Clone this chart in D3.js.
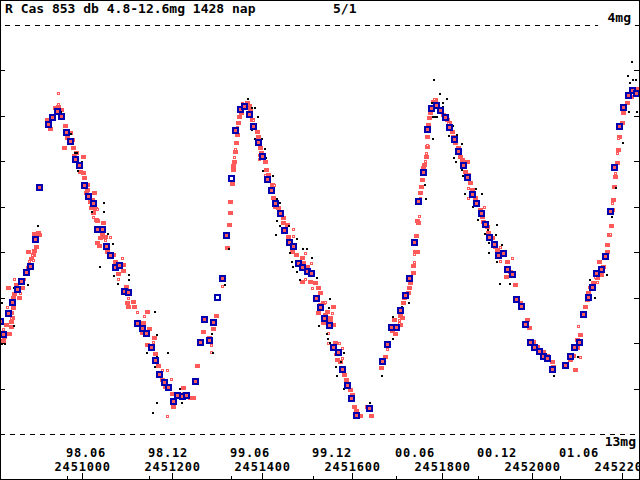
<!DOCTYPE html>
<html>
<head>
<meta charset="utf-8">
<title>R Cas</title>
<script src="https://cdn.jsdelivr.net/npm/d3@7"></script>
<style>
body { margin: 0; background: #fff; }
svg text { font-family: "DejaVu Sans Mono", monospace; font-weight: bold; font-size: 13px; fill: #000; }
svg text.xlab { font-size: 12px; letter-spacing: 0.8px; }
</style>
</head>
<body>
<script>
const width = 640
const height = 480
const JD0 = 2450000

const title = 'R Cas 853 db 4.8-12.6mg 1428 nap'
const pageNo = '5/1'
const magTop = 4
const magBottom = 13
const magTicks = [5, 6, 7, 8, 9, 10, 11, 12]
const jdTicks = [2451000, 2451200, 2451400, 2451600, 2451800, 2452000, 2452200]
const dateLabels = ['98.06', '98.12', '99.06', '99.12', '00.06', '00.12', '01.06']
const dateJD = [2450965.5, 2451148.5, 2451330.5, 2451513.5, 2451696.5, 2451879.5, 2452061.5]

// [JD - 2450000, magnitude]
// blue squares (averages)
const blueMarks = [
  [819,10.54],[826,10.82],[837,10.36],[846,10.12],[857,9.83],[866,9.66],[877,9.46],[886,9.33],[897,8.73],[906,7.59],
  [926,6.20],[935,6.05],[946,5.91],[955,6.02],[966,6.38],[975,6.58],[986,6.97],[995,7.10],[1006,7.54],[1015,7.79],
  [1026,7.94],[1035,8.51],[1046,8.51],[1055,8.89],[1064,9.08],[1075,9.35],[1084,9.30],[1095,9.88],[1104,9.90],
  [1124,10.58],[1135,10.69],[1144,10.80],[1155,11.11],[1164,11.39],[1173,11.70],[1184,11.88],[1193,11.99],
  [1204,12.30],[1213,12.16],[1224,12.19],[1233,12.16],[1253,11.86],[1264,11.00],[1273,10.49],[1284,10.95],[1293,10.56],
  [1313,9.59],[1321,8.64],[1341,6.33],[1353,5.87],[1361,5.80],[1373,5.98],[1381,6.24],[1393,6.60],[1401,6.91],
  [1413,7.41],[1421,7.65],[1430,7.94],[1441,8.16],[1450,8.53],[1461,8.80],[1470,8.89],[1482,9.26],[1490,9.35],
  [1501,9.44],[1510,9.48],[1521,10.03],[1530,10.23],[1539,10.47],[1550,10.62],[1559,11.11],[1570,11.22],[1579,11.59],
  [1590,11.94],[1599,12.23],[1610,12.60],[1639,12.45],[1668,11.42],[1679,11.04],[1688,10.67],[1699,10.67],[1708,10.29],
  [1719,9.96],[1728,9.59],[1739,8.80],[1748,7.90],[1759,7.26],[1768,6.31],[1777,5.85],[1788,5.78],[1797,5.89],
  [1808,6.05],[1817,6.27],[1828,6.53],[1837,6.80],[1848,7.10],[1857,7.37],[1868,7.74],[1877,7.94],[1888,8.16],
  [1897,8.40],[1906,8.69],[1917,8.84],[1926,9.08],[1937,9.04],[1946,9.39],[1957,9.50],[1966,10.05],[1977,10.21],
  [1986,10.60],[1997,11.00],[2006,11.11],[2017,11.20],[2026,11.31],[2035,11.35],[2046,11.59],[2075,11.50],[2086,11.31],
  [2095,11.11],[2106,11.00],[2115,10.38],[2126,10.01],[2135,9.79],[2144,9.48],[2155,9.39],[2164,9.11],[2175,8.12],
  [2184,7.15],[2195,6.24],[2204,5.83],[2215,5.56],[2224,5.45],[2233,5.52]
]
const blueHollow = [[1302,10.01],[1333,7.39]]

// red filled marks
const redFilled = [
  [824,10.95],[826,10.87],[837,10.80],[830,10.60],[841,10.65],[841,10.54],[844,10.45],[841,10.34],[846,10.23],[846,10.01],
  [859,10.01],[848,9.92],[835,9.79],[866,9.79],[853,9.72],[873,9.44],[879,9.35],[886,9.15],[890,9.06],[879,9.00],
  [893,8.97],[897,8.89],[893,8.60],[901,8.58],[904,8.62],
  [939,5.83],[946,5.80],[953,5.87],[921,6.09],[928,6.29],[961,6.22],[961,6.38],[972,6.38],[966,6.49],[977,6.53],
  [959,6.71],[979,6.71],[986,6.82],[981,6.88],[1001,6.91],[995,7.24],[1001,7.26],[1004,7.37],[1010,7.52],[1010,7.63],
  [1008,7.70],[1026,7.70],[1021,7.85],[1017,7.90],[1019,8.03],[1028,8.05],[1024,8.14],[1030,8.29],[1033,8.31],
  [1046,8.36],[1044,8.62],[1039,8.69],[1050,8.67],[1033,8.80],[1037,8.86],[1055,9.00],[1068,9.06],[1073,9.22],
  [1090,9.28],[1090,9.41],[1079,9.48],[1097,9.77],[1099,10.12],[1101,10.21],[1113,10.10],[1115,10.21],[1144,10.32],
  [1135,10.56],[1148,10.69],[1133,10.78],[1159,10.89],[1144,11.04],[1161,11.24],[1168,11.50],[1177,11.81],[1184,11.97],
  [1199,12.12],[1199,12.25],[1202,12.41],[1224,11.99],[1239,12.21],[1246,12.21],[1255,11.50],[1268,10.76],[1281,10.89],
  [1290,10.69],[1297,10.40],
  [1321,8.91],[1326,8.40],[1328,8.14],[1328,7.90],[1333,7.50],[1335,7.19],[1335,7.10],[1337,7.02],[1339,6.80],
  [1341,6.60],[1344,6.42],[1346,6.16],[1348,6.02],[1353,5.94],[1357,5.76],[1366,5.72],[1370,5.78],
  [1373,5.87],[1377,6.09],[1388,6.35],[1390,6.46],[1395,6.71],[1397,6.82],[1406,7.02],[1408,7.19],[1413,7.30],
  [1421,7.52],[1424,7.81],[1428,8.01],[1435,8.03],[1446,8.25],[1446,8.36],[1455,8.40],[1457,8.67],[1461,8.78],
  [1466,9.00],[1475,9.06],[1488,9.13],[1490,9.24],[1499,9.33],[1508,9.50],[1506,9.66],[1517,9.68],[1488,9.66],
  [1524,9.79],[1528,9.90],[1528,10.16],[1535,10.12],[1524,10.34],[1539,10.38],[1544,10.32],[1557,10.21],[1550,10.45],
  [1550,10.54],[1535,10.56],[1557,10.60],[1561,11.00],[1566,11.22],[1566,11.37],[1573,11.42],[1581,11.70],[1586,11.81],
  [1595,12.03],[1599,12.14],[1604,12.41],[1608,12.50],[1617,12.60],[1633,12.41],[1641,12.60],
  [1664,11.55],[1673,11.31],[1688,10.73],[1695,10.80],[1693,10.49],[1706,10.40],[1706,10.60],[1710,10.45],[1713,10.12],
  [1715,10.01],[1724,9.90],[1726,9.79],[1728,9.68],[1735,9.46],[1735,9.30],[1739,9.00],[1744,9.00],[1741,8.64],
  [1744,8.31],[1746,8.36],[1750,7.70],[1753,7.57],[1755,7.41],[1757,7.15],[1759,7.08],[1764,6.91],[1766,6.69],
  [1766,6.46],[1768,6.20],[1770,6.05],[1773,5.94],[1777,5.83],[1779,5.69],[1784,5.65],
  [1795,5.91],[1801,5.98],[1810,6.09],[1815,6.16],[1821,6.35],[1824,6.46],[1828,6.60],[1835,6.71],[1839,6.91],
  [1844,6.97],[1855,7.02],[1850,7.24],[1857,7.30],[1861,7.48],[1866,7.63],[1873,7.81],[1877,7.90],[1884,8.07],
  [1888,8.23],[1890,8.34],[1899,8.45],[1901,8.58],[1910,8.69],[1917,8.89],[1921,8.95],[1926,9.06],[1944,9.22],
  [1946,9.35],[1950,9.44],[1941,9.55],[1961,9.72],[1966,10.05],[1973,10.12],[1988,10.49],[1993,10.67],[2001,10.98],
  [2010,11.09],[2024,11.20],[2033,11.28],[2044,11.42],[2046,11.53],
  [2084,11.37],[2095,11.59],[2090,11.28],[2099,11.11],[2099,10.93],[2106,10.82],[2117,10.21],[2121,10.05],[2124,9.90],
  [2133,9.77],[2135,9.68],[2144,9.57],[2148,9.22],[2153,9.50],[2157,9.33],[2166,9.00],[2166,8.84],[2170,8.62],
  [2175,8.42],[2177,8.07],[2179,7.85],[2181,7.57],[2184,7.35],[2188,7.04],[2190,6.75],[2192,6.46],[2199,6.16],
  [2201,5.94],[2210,5.72],[2219,5.58],[2224,5.43],[2233,5.41]
]

// red open marks
const redHollow = [
  [888,9.06],[881,9.19],[890,9.17],[870,9.59],[861,9.90],[833,10.21],[841,10.45],[824,10.69],[848,9.59],[946,5.74],
  [946,5.50],[1033,8.05],[1024,8.23],[1061,8.67],[1050,8.73],[1079,9.59],[1088,9.13],[1101,10.01],[1121,10.32],
  [1137,10.40],[1157,10.98],[1177,11.59],[1188,11.59],[1197,11.79],[1224,12.10],[1188,12.60],[1286,11.04],[1286,11.20],
  [1310,9.74],[1337,6.91],[1339,6.73],[1344,6.24],[1355,5.72],[1379,6.09],[1393,6.86],[1393,6.95],[1406,7.30],
  [1426,7.52],[1468,8.49],[1468,8.64],[1495,9.02],[1508,9.24],[1495,9.59],[1510,9.79],[1539,10.10],[1555,10.34],
  [1546,10.78],[1546,11.00],[1570,11.00],[1577,11.11],[1561,11.24],[1577,11.33],[1588,11.86],[1677,11.13],
  [1704,10.49],[1704,10.56],[1748,8.20],[1737,9.22],[1737,9.04],[1750,7.81],[1761,6.99],[1764,6.82],[1766,6.64],
  [1781,5.63],[1813,6.16],[1821,6.46],[1855,7.37],[1857,7.59],[1857,7.81],[1893,8.01],[1928,8.89],[1928,9.19],
  [1955,9.13],[1957,9.52],[2101,10.62],[2106,11.31],[2126,9.77],[2144,9.66],[2139,9.55],[2173,8.60],[2177,7.92],
  [2184,7.26],[2188,6.82],[2190,6.49],[2217,5.45],[2215,5.54]
]

// black dots (visual estimates)
const blackDots = [
  [901,8.42],[879,9.72],[848,9.79],[821,10.12],[848,10.62],[821,11.02],[828,11.02],[953,5.91],[975,6.40],[984,6.82],
  [988,6.82],[999,7.02],[990,7.21],[1048,7.92],[1048,8.12],[1021,8.12],[1057,8.60],[1039,9.33],[1068,8.82],[1070,9.52],
  [1079,9.70],[1104,9.50],[1104,9.61],[1161,10.32],[1166,10.82],[1144,11.22],[1190,11.22],[1166,11.31],[1161,11.53],
  [1166,12.32],[1222,12.32],[1217,12.01],[1157,12.54],[1288,10.80],[1290,11.22],[1368,5.63],[1317,9.52],[1317,9.72],
  [1326,8.93],[1377,5.83],[1384,5.83],[1390,6.02],[1377,6.31],[1384,6.51],[1399,6.51],[1406,6.73],[1408,6.93],
  [1401,7.21],[1424,7.32],[1433,7.83],[1439,7.92],[1433,8.31],[1439,8.42],[1459,8.42],[1430,8.62],[1477,8.71],
  [1461,9.02],[1490,8.93],[1499,8.93],[1466,9.22],[1477,9.22],[1510,9.13],[1468,9.33],[1477,9.44],[1484,9.61],
  [1515,9.44],[1521,9.57],[1548,10.23],[1550,10.03],[1526,10.62],[1544,10.80],[1546,10.91],[1550,11.00],[1581,11.22],
  [1564,11.53],[1575,11.42],[1566,11.72],[1581,12.01],[1639,12.32],[1666,11.72],[1690,10.91],[1690,10.43],[1710,10.21],
  [1726,10.12],[1764,7.83],[1761,7.52],[1779,6.51],[1781,5.21],[1795,5.52],[1777,5.72],[1779,6.02],[1788,6.02],
  [1801,5.72],[1810,5.63],[1801,5.80],[1784,6.02],[1801,6.09],[1810,6.22],[1824,6.22],[1815,6.44],[1833,6.42],
  [1844,6.62],[1826,6.93],[1830,7.02],[1844,7.19],[1846,7.32],[1875,7.61],[1850,7.72],[1888,7.72],[1868,8.01],
  [1879,8.29],[1890,8.40],[1921,8.40],[1901,8.51],[1895,8.60],[1919,8.62],[1904,8.80],[1933,8.84],[1904,9.02],
  [1921,9.02],[1921,9.22],[1928,9.70],[1950,9.70],[2048,11.72],[2101,11.31],[2128,9.61],[2139,10.01],[2166,9.50],
  [2177,8.23],[2186,7.59],[2201,6.60],[2217,5.28],[2213,5.12],[2224,5.21],[2230,5.21],[2215,5.91],[2233,5.91],
  [2208,5.61],[2221,4.81]
]

const red = '#ff5a5a'
const blue = '#0000b0'

const x = d3.scaleLinear().domain([2451000, 2452200]).range([82.3, 622.3])
const y = d3.scaleLinear().domain([magTop, magBottom]).range([25, 434])
const px = d => Math.round(x(JD0 + d[0]))
const py = d => Math.round(y(d[1]))

const svg = d3.select('body').append('svg')
  .attr('width', width)
  .attr('height', height)
  .style('display', 'block')

svg.append('rect')
  .attr('width', width).attr('height', height)
  .attr('fill', '#fff')

// dashed limit lines
svg.append('line')
  .attr('x1', 0).attr('x2', width)
  .attr('y1', y(magTop) + 0.5).attr('y2', y(magTop) + 0.5)
  .attr('stroke', '#000').attr('stroke-dasharray', '5,5').attr('stroke-dashoffset', 5)
  .attr('shape-rendering', 'crispEdges')
svg.append('line')
  .attr('x1', 0).attr('x2', width)
  .attr('y1', y(magBottom) + 0.5).attr('y2', y(magBottom) + 0.5)
  .attr('stroke', '#000').attr('stroke-dasharray', '5,5')
  .attr('shape-rendering', 'crispEdges')

// marks
const g = svg.append('g').attr('shape-rendering', 'crispEdges')

g.selectAll('.rf').data(redFilled).enter().append('rect')
  .attr('x', d => px(d) - 2).attr('y', d => py(d) - 2)
  .attr('width', 5).attr('height', 4)
  .attr('fill', red)

g.selectAll('.rh').data(redHollow).enter().append('rect')
  .attr('x', d => px(d) - 0.5).attr('y', d => py(d) - 0.5)
  .attr('width', 2).attr('height', 2)
  .attr('fill', '#fff').attr('stroke', red).attr('stroke-width', 1)

g.selectAll('.bk').data(blackDots).enter().append('rect')
  .attr('x', d => px(d) - 1).attr('y', d => py(d) - 1)
  .attr('width', 2).attr('height', 2)
  .attr('fill', '#000')

// blue squares: 7px outer, 2px blue border
g.selectAll('.bl').data(blueMarks).enter().append('rect')
  .attr('x', d => px(d) - 3).attr('y', d => py(d) - 3)
  .attr('width', 5).attr('height', 5)
  .attr('fill', red).attr('stroke', blue).attr('stroke-width', 2)

g.selectAll('.bh').data(blueHollow).enter().append('rect')
  .attr('x', d => px(d) - 3).attr('y', d => py(d) - 3)
  .attr('width', 5).attr('height', 5)
  .attr('fill', '#fff').attr('stroke', blue).attr('stroke-width', 2)

// frame and ticks
const axis = svg.append('g').attr('stroke', '#000').attr('shape-rendering', 'crispEdges')
axis.append('rect')
  .attr('x', 0.5).attr('y', 0.5).attr('width', width - 1).attr('height', height - 1)
  .attr('fill', 'none')

magTicks.forEach(m => {
  const yy = Math.round(y(m)) + 0.5
  axis.append('line').attr('x1', 0).attr('x2', 5).attr('y1', yy).attr('y2', yy)
  axis.append('line').attr('x1', width - 6).attr('x2', width).attr('y1', yy).attr('y2', yy)
})

jdTicks.forEach(t => {
  const xx = Math.round(x(t)) + 0.5
  axis.append('line').attr('x1', xx).attr('x2', xx).attr('y1', height - 7).attr('y2', height)
})
dateJD.forEach(t => {
  const xx = Math.round(x(t)) + 0.5
  axis.append('line').attr('x1', xx).attr('x2', xx).attr('y1', height - 4).attr('y2', height)
})

// texts
svg.append('text').attr('x', 5).attr('y', 13).text(title)
svg.append('text').attr('x', 333).attr('y', 13).text(pageNo)

svg.append('rect')
  .attr('x', 598).attr('y', 12).attr('width', 34).attr('height', 16)
  .attr('fill', '#fff')
svg.append('text').attr('x', 631).attr('y', 22).attr('text-anchor', 'end').text(magTop + 'mg')
svg.append('text').attr('x', 636).attr('y', 446).attr('text-anchor', 'end').text(magBottom + 'mg')

dateLabels.forEach((lab, i) => {
  svg.append('text').attr('class', 'xlab')
    .attr('x', Math.round(x(dateJD[i])) - 1).attr('y', 457)
    .text(lab)
})
jdTicks.forEach(t => {
  svg.append('text').attr('class', 'xlab')
    .attr('x', x(t) + 0.4).attr('y', 471)
    .attr('text-anchor', 'middle')
    .text(t)
})
</script>
</body>
</html>
